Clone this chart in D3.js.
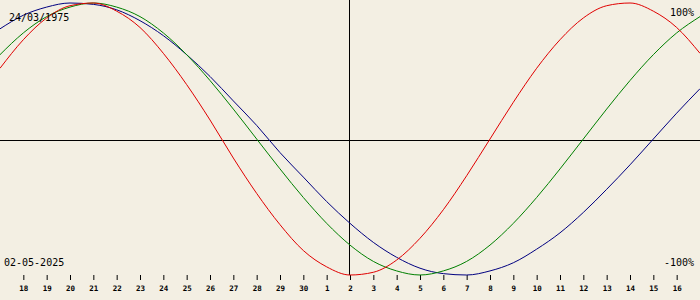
<!DOCTYPE html>
<html>
<head>
<meta charset="utf-8">
<script src="https://cdn.jsdelivr.net/npm/d3@7"></script>
<style>
  body { margin: 0; background: #f3efe3; }
  svg { display: block; }
  text { font-family: "DejaVu Sans Mono", monospace; fill: #000; }
</style>
</head>
<body>
<div id="chart"></div>
<script>
// one point per day, 17 Apr .. 17 May 2025
const dayLabels = ["17", "18", "19", "20", "21", "22", "23", "24", "25", "26", "27", "28", "29", "30",
    "1", "2", "3", "4", "5", "6", "7", "8", "9", "10", "11", "12", "13", "14", "15", "16", "17"];
const physical = [0.52, 0.73, 0.89, 0.98, 1.00, 0.94, 0.82, 0.63, 0.40, 0.14, -0.14, -0.40, -0.63, -0.82, -0.94,
    -1.00, -0.98, -0.89, -0.73, -0.52, -0.27, 0.00, 0.27, 0.52, 0.73, 0.89, 0.98, 1.00, 0.94, 0.82, 0.63];
const emotional = [0.62, 0.78, 0.90, 0.97, 1.00, 0.97, 0.90, 0.78, 0.62, 0.43, 0.22, 0.00, -0.22, -0.43, -0.62,
    -0.78, -0.90, -0.97, -1.00, -0.97, -0.90, -0.78, -0.62, -0.43, -0.22, 0.00, 0.22, 0.43, 0.62, 0.78, 0.90];
const intellectual = [0.81, 0.91, 0.97, 1.00, 0.99, 0.95, 0.87, 0.76, 0.62, 0.46, 0.28, 0.10, -0.10, -0.28, -0.46,
    -0.62, -0.76, -0.87, -0.95, -0.99, -1.00, -0.97, -0.91, -0.81, -0.69, -0.54, -0.37, -0.19, 0.00, 0.19, 0.37];
const birthDate = "24/03/1975";
const currentDate = "02-05-2025";
const todayIndex = 15;

const width = 700;
const height = 300;

const svg = d3.select("#chart")
    .append("svg")
    .attr("width", width)
    .attr("height", height);

const x = d3.scaleLinear()
    .domain([0, dayLabels.length - 1])
    .range([0, width]);

const y = d3.scaleLinear()
    .domain([-1, 1])
    .range([275, 3]);

// cross lines
svg.append("line")
    .attr("x1", 0).attr("x2", width)
    .attr("y1", 140.5).attr("y2", 140.5)
    .attr("stroke", "#000");

svg.append("line")
    .attr("x1", Math.round(x(todayIndex)) - 0.5).attr("x2", Math.round(x(todayIndex)) - 0.5)
    .attr("y1", 0).attr("y2", 275)
    .attr("stroke", "#000");

// day axis
const axis = svg.append("g")
    .attr("transform", "translate(0,275)")
    .call(d3.axisBottom(x)
        .tickValues(d3.range(1, dayLabels.length - 1))
        .tickFormat(i => dayLabels[i])
        .tickSize(5)
        .tickPadding(5.5));
axis.select(".domain").remove();
axis.selectAll("line").attr("stroke", "#000");
axis.selectAll("text")
    .style("font-family", "DejaVu Sans Mono, monospace")
    .style("font-weight", "bold")
    .style("font-size", "7.5px");

// curves
const line = d3.line()
    .x((d, i) => x(i))
    .y(d => y(d))
    .curve(d3.curveMonotoneX);

const series = [
    { values: intellectual, color: "#000080" },
    { values: emotional, color: "#008000" },
    { values: physical, color: "#e00000" }
];

series.forEach(s => {
    svg.append("path")
        .datum(s.values)
        .attr("d", line)
        .attr("fill", "none")
        .attr("stroke", s.color)
        .attr("stroke-width", 1);
});

// labels
svg.append("text")
    .attr("x", 9)
    .attr("y", 21)
    .style("font-size", "10px")
    .text(birthDate);

svg.append("text")
    .attr("x", 4)
    .attr("y", 266)
    .style("font-size", "10px")
    .text(currentDate);

svg.append("text")
    .attr("x", 694)
    .attr("y", 16)
    .attr("text-anchor", "end")
    .style("font-size", "10px")
    .text("100%");

svg.append("text")
    .attr("x", 694)
    .attr("y", 266)
    .attr("text-anchor", "end")
    .style("font-size", "10px")
    .text("-100%");
</script>
</body>
</html>
